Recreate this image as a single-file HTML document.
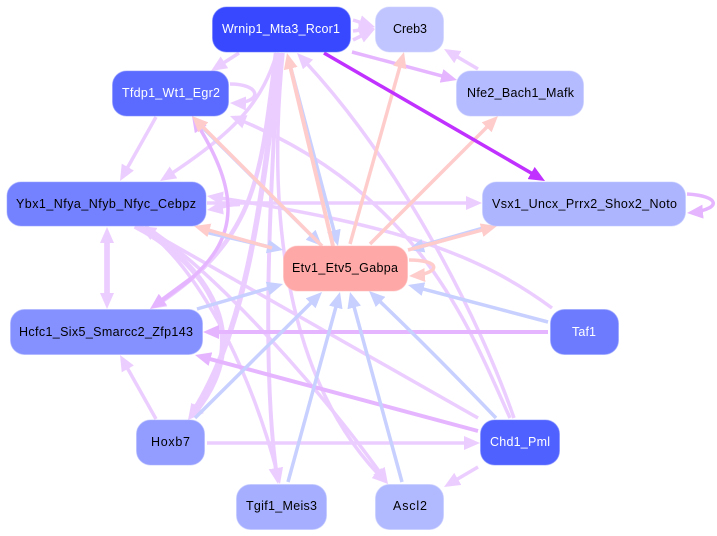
<!DOCTYPE html>
<html><head><meta charset="utf-8"><style>
html,body{margin:0;padding:0;background:#fff}
svg{display:block}
text{font-family:"Liberation Sans",sans-serif;font-size:12.5px;text-anchor:start}
.e{fill:none;stroke-linecap:butt}
.L{stroke:#eccdff}.P{stroke:#e6b5ff}.R{stroke:#ffcccc}.B{stroke:#c8d0ff}.S{stroke:#c030ff}
.a{stroke-dasharray:75 100}.b{stroke-dasharray:90 100}.c{stroke-dasharray:95 100}.d{stroke-dasharray:97 100}
rect{stroke-opacity:.55}
</style></head><body>
<svg width="717" height="536" viewBox="0 0 717 536" xmlns="http://www.w3.org/2000/svg">
<defs>
<marker id="mL" markerUnits="userSpaceOnUse" viewBox="0 0 16 14" refX="16" refY="7" markerWidth="16" markerHeight="14" orient="auto"><path d="M0 0L16 7L0 14Z" fill="#eccdff"/></marker>
<marker id="mP" markerUnits="userSpaceOnUse" viewBox="0 0 16 14" refX="16" refY="7" markerWidth="16" markerHeight="14" orient="auto"><path d="M0 0L16 7L0 14Z" fill="#e6b5ff"/></marker>
<marker id="mR" markerUnits="userSpaceOnUse" viewBox="0 0 16 14" refX="16" refY="7" markerWidth="16" markerHeight="14" orient="auto"><path d="M0 0L16 7L0 14Z" fill="#ffcccc"/></marker>
<marker id="mB" markerUnits="userSpaceOnUse" viewBox="0 0 16 14" refX="16" refY="7" markerWidth="16" markerHeight="14" orient="auto"><path d="M0 0L16 7L0 14Z" fill="#c8d0ff"/></marker>
<marker id="mS" markerUnits="userSpaceOnUse" viewBox="0 0 16 14" refX="16" refY="7" markerWidth="16" markerHeight="14" orient="auto"><path d="M0 0L16 7L0 14Z" fill="#c030ff"/></marker>
</defs>

<!-- light purple edges -->
<g class="e L" stroke-width="3.5">
<path class="a" pathLength="100" marker-end="url(#mL)" d="M239 53L211 71"/>
<path class="a" pathLength="100" marker-end="url(#mL)" d="M353 20L375 27"/>
<path class="a" pathLength="100" marker-end="url(#mL)" d="M353 31L375 28"/>
<path class="a" pathLength="100" marker-end="url(#mL)" d="M353 40L375 29"/>
<path class="a" pathLength="100" marker-end="url(#mL)" d="M478 69L444 49"/>
<path class="b" pathLength="100" marker-end="url(#mL)" d="M230 84C262 84 264 104 230 103"/>
<path class="b" pathLength="100" marker-end="url(#mL)" d="M156 117L120 181"/>
<path class="c" pathLength="100" marker-end="url(#mL)" d="M277 53C262 100 240 130 160 181"/>
<path class="d" pathLength="100" marker-end="url(#mL)" d="M514 418C480 320 400 160 297 53"/>
<path class="d" pathLength="100" marker-end="url(#mL)" d="M510 418C470 330 420 190 230 116"/>
<path class="d" pathLength="100" marker-end="url(#mL)" d="M552 308C480 255 400 225 207 196"/>
<path class="d" pathLength="100" marker-end="url(#mL)" d="M207 203L482 203"/>
<path class="b" pathLength="100" marker-end="url(#mL)" d="M156 419L120 355"/>
<path class="d" pathLength="100" marker-end="url(#mL)" d="M207 443L480 443"/>
<path class="a" pathLength="100" marker-end="url(#mL)" d="M478 467L444 487"/>
<path class="d" pathLength="100" marker-end="url(#mL)" d="M478 418L140 226"/>
<path class="d" pathLength="100" marker-end="url(#mL)" d="M145 226C220 275 330 400 388 484"/>
<path class="d" pathLength="100" marker-end="url(#mL)" d="M140 226C200 265 255 380 280 484"/>
<path class="d" pathLength="100" marker-end="url(#mL)" d="M279 53C268 220 262 380 278 484" stroke-width="4"/>
<path class="d" pathLength="100" marker-end="url(#mL)" d="M283 53C268 200 280 380 388 484"/>
</g>
<g class="e L" stroke-width="5.500">
<path class="d" pathLength="100" marker-end="url(#mL)" d="M280 53C262 190 250 330 188 420"/>
<path class="d" pathLength="100" marker-end="url(#mL)" d="M135 226C205 262 262 340 188 420"/>
<path class="d" pathLength="100" marker-end="url(#mL)" d="M276 53C260 180 258 240 150 309" stroke-width="4.500"/>
<path class="b" pathLength="100" marker-end="url(#mL)" d="M107 240L107 309"/>
<path class="b" pathLength="100" marker-end="url(#mL)" d="M107 296L107 227"/>
<path class="a" pathLength="100" marker-end="url(#mL)" d="M240 204C225 204 220 208 207 210" stroke-width="4.500"/>
</g>
<!-- purple edges -->
<g class="e P" stroke-width="3.5">
<path class="b" pathLength="100" marker-end="url(#mP)" d="M352 52L457 80"/>
<path class="d" pathLength="100" marker-end="url(#mP)" d="M548 332L203 332" stroke-width="4"/>
<path class="d" pathLength="100" marker-end="url(#mP)" d="M478 431L195 355" stroke-width="4"/>
<path class="b" pathLength="100" marker-end="url(#mP)" d="M687 194C722 196 722 210 687 213"/>
<path class="c" pathLength="100" marker-end="url(#mP)" d="M192 278C240 235 240 190 192 116"/>
<path class="a" pathLength="100" marker-end="url(#mP)" d="M192 278L150 309" stroke-width="4.500"/>
</g>
<!-- blue edges -->
<g class="e B" stroke-width="3.5">
<path class="c" pathLength="100" marker-end="url(#mB)" d="M290 65L338 246"/>
<path class="c" pathLength="100" marker-end="url(#mB)" d="M200 125L322 246"/>
<path class="b" pathLength="100" marker-end="url(#mB)" d="M205 232L283 250"/>
<path class="b" pathLength="100" marker-end="url(#mB)" d="M197 309L283 284"/>
<path class="c" pathLength="100" marker-end="url(#mB)" d="M195 418L322 292"/>
<path class="c" pathLength="100" marker-end="url(#mB)" d="M288 482L340 292"/>
<path class="c" pathLength="100" marker-end="url(#mB)" d="M402 482L350 292"/>
<path class="c" pathLength="100" marker-end="url(#mB)" d="M496 418C450 370 410 330 369 291"/>
<path class="b" pathLength="100" marker-end="url(#mB)" d="M548 322L408 285"/>
<path class="b" pathLength="100" marker-end="url(#mB)" d="M485 228L408 250" stroke-width="4.500"/>
</g>
<!-- pink edges -->
<g class="e R" stroke-width="3.5">
<path class="c" pathLength="100" marker-end="url(#mR)" d="M333 246L287 53" stroke-width="4"/>
<path class="c" pathLength="100" marker-end="url(#mR)" d="M350 244L404 52"/>
<path class="c" pathLength="100" marker-end="url(#mR)" d="M370 244L498 116"/>
<path class="b" pathLength="100" marker-end="url(#mR)" d="M408 250L497 226"/>
<path class="c" pathLength="100" marker-end="url(#mR)" d="M322 246L192 116"/>
<path class="b" pathLength="100" marker-end="url(#mR)" d="M272 248L194 226"/>
<path class="b" pathLength="100" marker-end="url(#mR)" d="M409 260C442 260 442 274 409 276"/>
</g>
<path class="e S c" pathLength="100" stroke-width="3.5" marker-end="url(#mS)" d="M324 53L545 181"/>

<!-- nodes -->
<g stroke-width="1">
<rect x="212.5" y="7" width="138" height="45" rx="14" fill="#3748ff" stroke="#6674ff"/>
<rect x="375.500" y="7" width="68" height="45" rx="14" fill="#c0c5ff" stroke="#ccd0ff"/>
<rect x="112.500" y="71" width="116" height="45" rx="14" fill="#5b6bff" stroke="#8490ff"/>
<rect x="456.500" y="71" width="127" height="45" rx="14" fill="#b4bbff" stroke="#c4c9ff"/>
<rect x="7" y="182" width="199" height="44" rx="14" fill="#7582ff" stroke="#98a2ff"/>
<rect x="482.500" y="182" width="203" height="44" rx="14" fill="#adb5ff" stroke="#c0c6ff"/>
<rect x="283.500" y="246" width="124" height="45" rx="14" fill="#ffa8a8" stroke="#ffb8b8"/>
<rect x="10.500" y="309.500" width="192" height="45" rx="14" fill="#8591ff" stroke="#a4adff"/>
<rect x="550.500" y="309.500" width="68" height="45" rx="14" fill="#6d7cff" stroke="#929dff"/>
<rect x="136.500" y="420" width="68" height="45" rx="14" fill="#929dff" stroke="#adb5ff"/>
<rect x="480.500" y="420" width="79" height="45" rx="14" fill="#4f61ff" stroke="#7a88ff"/>
<rect x="236.500" y="484.500" width="90" height="45" rx="14" fill="#a6afff" stroke="#bbc2ff"/>
<rect x="375.500" y="484.500" width="68" height="45" rx="14" fill="#b2baff" stroke="#c3c9ff"/>
</g>

<!-- labels -->
<text x="222" y="33" fill="#fff" textLength="118" lengthAdjust="spacing">Wrnip1_Mta3_Rcor1</text>
<text x="393" y="33" fill="#000" textLength="34" lengthAdjust="spacing">Creb3</text>
<text x="122" y="97" fill="#fff" textLength="98" lengthAdjust="spacing">Tfdp1_Wt1_Egr2</text>
<text x="467" y="97" fill="#000" textLength="107" lengthAdjust="spacing">Nfe2_Bach1_Mafk</text>
<text x="16" y="208" fill="#000" textLength="180" lengthAdjust="spacing">Ybx1_Nfya_Nfyb_Nfyc_Cebpz</text>
<text x="492" y="208" fill="#000" textLength="185" lengthAdjust="spacing">Vsx1_Uncx_Prrx2_Shox2_Noto</text>
<text x="292" y="272" fill="#000" textLength="106" lengthAdjust="spacing">Etv1_Etv5_Gabpa</text>
<text x="19" y="336" fill="#000" textLength="174" lengthAdjust="spacing">Hcfc1_Six5_Smarcc2_Zfp143</text>
<text x="572" y="336" fill="#fff" textLength="24" lengthAdjust="spacing">Taf1</text>
<text x="151" y="446" fill="#000" textLength="39" lengthAdjust="spacing">Hoxb7</text>
<text x="490" y="446" fill="#fff" textLength="60" lengthAdjust="spacing">Chd1_Pml</text>
<text x="246" y="510" fill="#000" textLength="71" lengthAdjust="spacing">Tgif1_Meis3</text>
<text x="393" y="510" fill="#000" textLength="34" lengthAdjust="spacing">Ascl2</text>
</svg>
</body></html>
